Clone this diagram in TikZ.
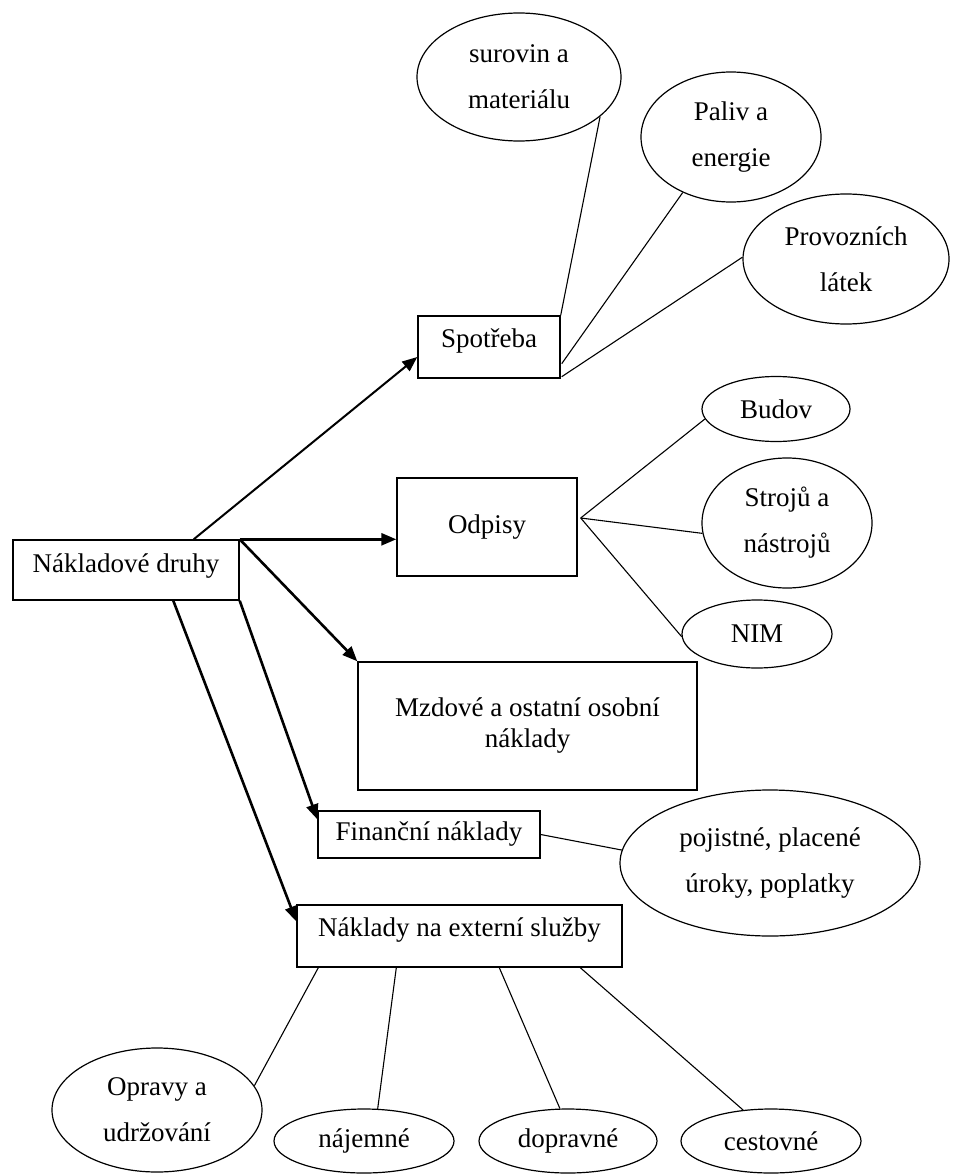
\documentclass[tikz,border=0pt]{standalone}
\usepackage{fontspec}
\setmainfont{Liberation Serif}
\usetikzlibrary{arrows.meta,shapes.geometric,calc}

\begin{document}
\begin{tikzpicture}[x=1pt,y=-1pt,
  box/.style={draw, line width=1.4pt, rectangle, inner sep=0pt, align=center,
    font=\fontsize{27}{31}\selectfont},
  oval/.style={draw, line width=1.2pt, ellipse, inner sep=0pt, align=center,
    font=\fontsize{27}{46}\selectfont},
  link/.style={line width=1.1pt},
  feed/.style={line width=2.6pt, -{Triangle[length=15pt,width=12pt]}},
]
\useasboundingbox (0,0) rectangle (954,1174);

% cost categories
\node[box, minimum width=226pt, minimum height=60pt, text depth=13pt] (nd) at (126,570) {Nákladové druhy};
\node[box, minimum width=142pt, minimum height=62pt, text depth=17pt] (spot) at (489,347) {Spotřeba};
\node[box, minimum width=180pt, minimum height=98pt] (odp) at (487,527) {Odpisy};
\node[box, minimum width=339pt, minimum height=128pt] (mzd) at (527.5,726) {Mzdové a ostatní osobní\\náklady};
\node[box, minimum width=222pt, minimum height=47pt] (fin) at (429,834.5) {Finanční náklady};
\node[box, minimum width=325pt, minimum height=62pt, text depth=18pt] (ext) at (459.5,936) {Náklady na externí služby};

% detail items
\node[oval, minimum width=204pt, minimum height=128pt] (sur) at (519,77) {surovin a\\materiálu};
\node[oval, minimum width=180pt, minimum height=130pt] (pal) at (731,137) {Paliv a\\energie};
\node[oval, minimum width=206pt, minimum height=130pt] (pro) at (846,259) {Provozních\\látek};
\node[oval, minimum width=148pt, minimum height=65pt] (bud) at (776,409) {Budov};
\node[oval, minimum width=170pt, minimum height=130pt] (str) at (787,523) {Strojů a\\nástrojů};
\node[oval, minimum width=150pt, minimum height=68pt] (nim) at (757,634) {NIM};
\node[oval, minimum width=300pt, minimum height=146pt] (poj) at (770,863) {pojistné, placené\\úroky, poplatky};
\node[oval, minimum width=210pt, minimum height=124pt] (opr) at (157,1110) {Opravy a\\udržování};
\node[oval, minimum width=180pt, minimum height=64pt] (naj) at (364,1141) {nájemné};
\node[oval, minimum width=178pt, minimum height=64pt] (dop) at (568,1141) {dopravné};
\node[oval, minimum width=180pt, minimum height=64pt] (ces) at (771,1141) {cestovné};

% arrows from the root
\draw[feed, line width=2pt] ($(nd.north east)+(-46,0)$) -- ($(spot.west)+(0,10)$);
\draw[feed] (nd.north east) -- (nd.north east -| odp.west);
\draw[feed] (nd.north east) -- (mzd.north west);
\draw[feed] (nd.south east) -- ($(fin.north west)+(0,9)$);
\draw[feed] ($(nd.south west)+(161,0)$) -- ($(ext.north west)+(0,17)$);

% plain links to the items
\draw[link] (spot.north east) -- (sur.334);
\draw[link] ($(spot.south east)+(1,-15)$) -- (pal.229);
\draw[link] ($(spot.south east)+(1,-2)$) -- (pro.179);
\coordinate (hub) at ($(odp.east)+(3,-9)$);
\draw[link] (hub) -- (bud.188);
\draw[link] (hub) -- (str.187);
\draw[link] (hub) -- (nim.182);
\draw[link] (fin.east) -- (poj.175);
\draw[link] ($(ext.south west)+(22,0)$) -- (opr.14);
\draw[link] ($(ext.south west)+(100,0)$) -- (naj.67);
\draw[link] ($(ext.south west)+(203,0)$) -- (dop.104);
\draw[link] ($(ext.south west)+(284,0)$) -- (ces.132);
\end{tikzpicture}
\end{document}
